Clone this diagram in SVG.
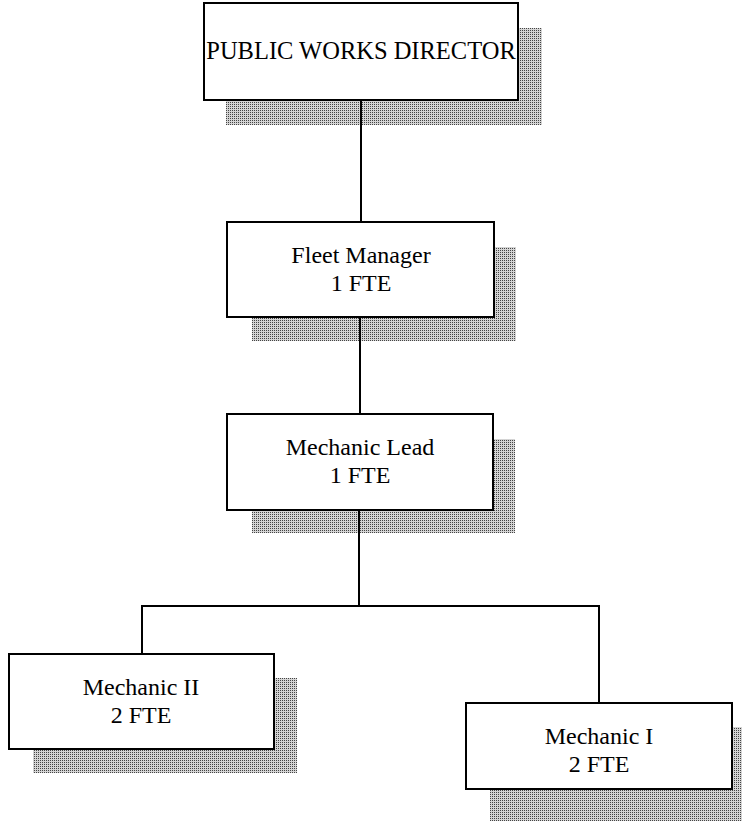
<svg xmlns="http://www.w3.org/2000/svg" width="742" height="821" viewBox="0 0 742 821">
<defs>
<pattern id="dots" width="2" height="2" patternUnits="userSpaceOnUse">
<rect width="2" height="2" fill="#d4d4d4"/>
<rect width="1" height="1" fill="#444"/>
</pattern>
<style>
.sh{fill:url(#dots);}
.box{fill:#fff;stroke:#000;stroke-width:2;}
.t{font-family:"Liberation Serif","Times New Roman",serif;font-size:24px;fill:#000;text-anchor:middle;}
.tt{font-family:"Liberation Serif","Times New Roman",serif;font-size:24.5px;fill:#000;text-anchor:middle;}
.ln{stroke:#000;stroke-width:2;fill:none;}
</style>
</defs>
<rect width="742" height="821" fill="#fff"/>
<g id="director">
<rect class="sh" x="226" y="28" width="316" height="97"/>
<rect class="box" x="204" y="3" width="314" height="97"/>
<text class="tt" x="361" y="59">PUBLIC WORKS DIRECTOR</text>
</g>
<g id="fleet-manager">
<rect class="sh" x="252" y="247" width="264" height="94"/>
<rect class="box" x="227" y="222" width="267" height="95"/>
<text class="t" x="361" y="263">Fleet Manager</text>
<text class="t" x="361" y="291">1 FTE</text>
</g>
<g id="mechanic-lead">
<rect class="sh" x="252" y="439" width="263" height="94"/>
<rect class="box" x="227" y="414" width="266" height="96"/>
<text class="t" x="360" y="455">Mechanic Lead</text>
<text class="t" x="360" y="483">1 FTE</text>
</g>
<g id="mechanic-ii">
<rect class="sh" x="33" y="678" width="264" height="95"/>
<rect class="box" x="9" y="654" width="265" height="95"/>
<text class="t" x="141" y="695">Mechanic II</text>
<text class="t" x="141" y="723">2 FTE</text>
</g>
<g id="mechanic-i">
<rect class="sh" x="490" y="727" width="260" height="94"/>
<rect class="box" x="466" y="703" width="266" height="86"/>
<text class="t" x="599" y="744">Mechanic I</text>
<text class="t" x="599" y="772">2 FTE</text>
</g>
<g id="connectors">
<line class="ln" x1="361" y1="100" x2="361" y2="222"/>
<line class="ln" x1="360" y1="317" x2="360" y2="414"/>
<line class="ln" x1="359" y1="510" x2="359" y2="606"/>
<polyline class="ln" points="142,654 142,606 599,606 599,703"/>
</g>
</svg>
